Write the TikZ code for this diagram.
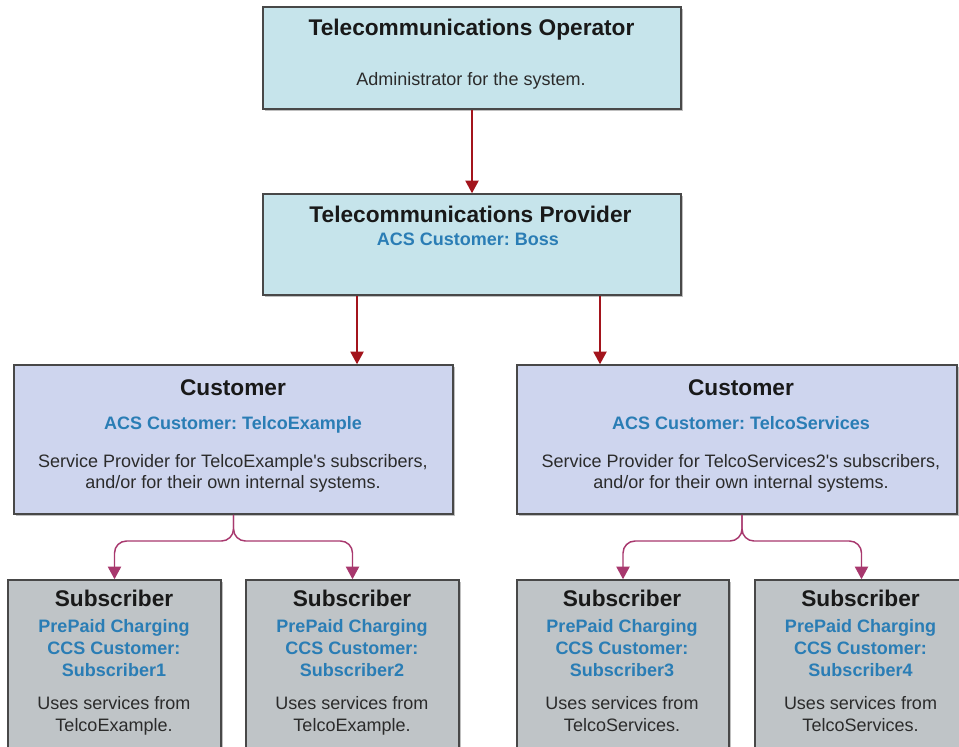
\documentclass[tikz,border=0pt]{standalone}
\usepackage{fontspec}
\setmainfont{Liberation Sans}
\usetikzlibrary{arrows.meta,shadows}
\frenchspacing
\definecolor{opfill}{HTML}{C6E4EB}
\definecolor{custfill}{HTML}{CED5EE}
\definecolor{subfill}{HTML}{BFC4C7}
\definecolor{boxline}{HTML}{484848}
\definecolor{redarr}{HTML}{A3141C}
\definecolor{magarr}{HTML}{A8386E}
\definecolor{acsblue}{HTML}{2A7DB5}
\definecolor{bodytext}{HTML}{2B2B2B}
\tikzset{
  box/.style={draw=boxline, line width=1.2pt, inner sep=0pt,
    drop shadow={shadow xshift=1.2pt, shadow yshift=-1.2pt, fill=black, opacity=0.25}},
  opbox/.style={box, fill=opfill},
  custbox/.style={box, fill=custfill, minimum height={149*0.75pt}},
  subbox/.style={box, fill=subfill, minimum width={213*0.75pt}, minimum height={180*0.75pt}},
  ttl/.style={anchor=base, inner sep=0pt, font=\fontsize{17}{20}\selectfont\bfseries, text=black!90},
  bdy/.style={anchor=base, inner sep=0pt, font=\fontsize{13.5}{16}\selectfont, text=bodytext},
  acs/.style={anchor=base, inner sep=0pt, font=\fontsize{13.5}{16}\selectfont\bfseries, text=acsblue},
  redlink/.style={draw=redarr, line width=1.1pt, -{Triangle[width=10pt,length=9.5pt]}},
  maglink/.style={draw=magarr, line width=1.1pt, rounded corners=9pt, -{Triangle[width=10pt,length=9.5pt]}},
}
\begin{document}
\begin{tikzpicture}[x=0.75pt,y=-0.75pt]
\clip (0,0) rectangle (959,746);
\fill[white] (0,0) rectangle (959,746);

% boxes
\node[opbox, minimum width={418*0.75pt}, minimum height={102*0.75pt}] (op) at (472,58) {};
\node[opbox, minimum width={418*0.75pt}, minimum height={101*0.75pt}] (prov) at (472,244.5) {};
\node[custbox, minimum width={439*0.75pt}] (custL) at (233.5,439.5) {};
\node[custbox, minimum width={440*0.75pt}] (custR) at (737,439.5) {};
\node[subbox] (sub1) at (114.5,670) {};
\node[subbox] (sub2) at (352.5,670) {};
\node[subbox, minimum width={212*0.75pt}] (sub3) at (623,670) {};
\node[subbox] (sub4) at (861.5,670) {};

% operator texts
\node[ttl] (opT) at (471.5,36) {Telecommunications Operator};
\node[bdy] (opB) at (471,85) {Administrator for the system.};
% provider texts
\node[ttl] (prT) at (470.5,222) {Telecommunications Provider};
\node[acs] (prA) at (468,245) {ACS Customer: Boss};
% customer left
\node[ttl] (cLT) at (233,395) {Customer};
\node[acs] (cLA) at (233,429) {ACS Customer: TelcoExample};
\node[bdy] (cLB1) at (233,467) {Service Provider for TelcoExample\textquotesingle s subscribers,};
\node[bdy] (cLB2) at (233,488) {and/or for their own internal systems.};
% customer right
\node[ttl] (cRT) at (741,395) {Customer};
\node[acs] (cRA) at (741,429) {ACS Customer: TelcoServices};
\node[bdy] (cRB1) at (741,467) {Service Provider for TelcoServices2\textquotesingle s subscribers,};
\node[bdy] (cRB2) at (741,488) {and/or for their own internal systems.};

% subscribers
\foreach \n/\cx/\who in {1/114/TelcoExample, 2/352/TelcoExample, 3/622/TelcoServices, 4/860.5/TelcoServices}{
  \node[ttl] (s\n T) at (\cx,606) {Subscriber};
  \node[acs] (s\n A) at (\cx,632) {PrePaid Charging};
  \node[acs] (s\n B) at (\cx,654) {CCS Customer:};
  \node[acs] (s\n C) at (\cx,676) {Subscriber\n};
  \node[bdy] (s\n D) at (\cx,709) {Uses services from};
  \node[bdy] (s\n E) at (\cx,731) {\who.};
}

% connectors
\coordinate (xL) at (357,0);
\coordinate (xR) at (600,0);
\coordinate (jRx) at (742,0);
\coordinate (hy) at (0,541);
\draw[redlink] (op.south) -- (prov.north);
\draw[redlink] (prov.south -| xL) -- (custL.north -| xL);
\draw[redlink] (prov.south -| xR) -- (custR.north -| xR);

\draw[maglink] (custL.south) -- (custL.south |- hy) -| (sub1.north);
\draw[maglink] (custL.south) -- (custL.south |- hy) -| (sub2.north);
\draw[maglink] (custR.south -| jRx) -- (jRx |- hy) -| (sub3.north);
\draw[maglink] (custR.south -| jRx) -- (jRx |- hy) -| (sub4.north);
\end{tikzpicture}
\end{document}
